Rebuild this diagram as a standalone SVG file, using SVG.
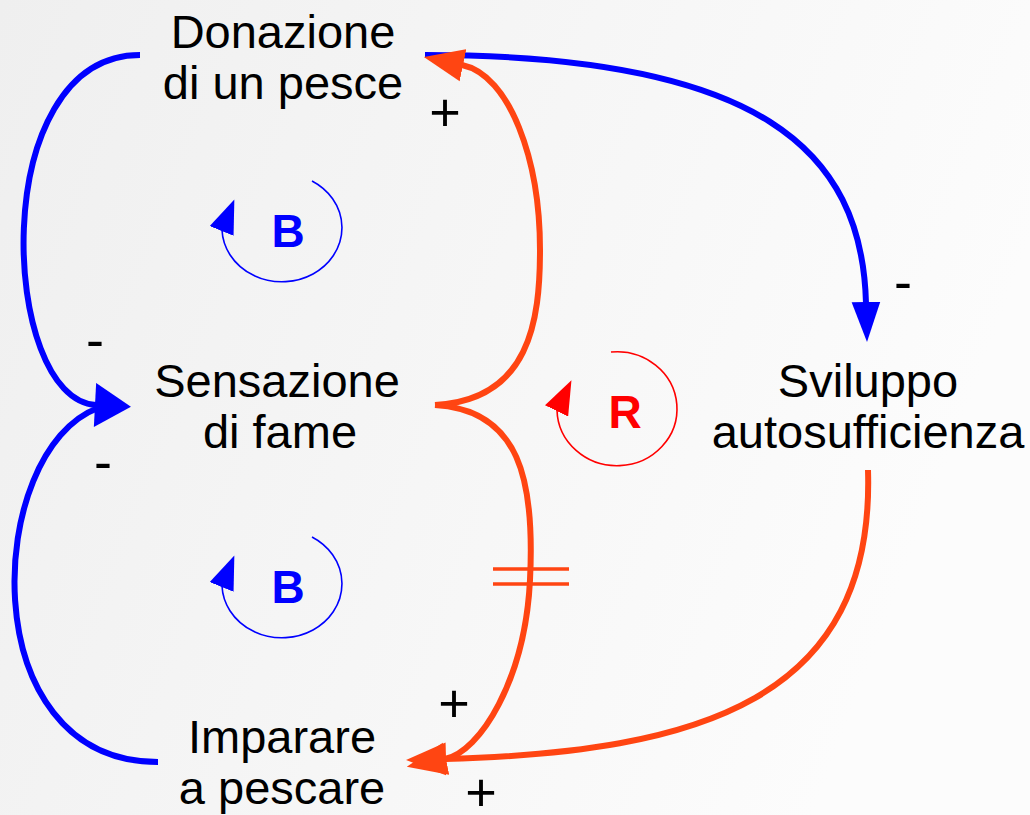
<svg xmlns="http://www.w3.org/2000/svg" width="1030" height="815" viewBox="0 0 1030 815">
<defs>
<linearGradient id="bg" x1="0" y1="0" x2="1" y2="0.3">
<stop offset="0" stop-color="#efefef"/>
<stop offset="1" stop-color="#fcfcfc"/>
</linearGradient>
<marker id="ahBlue" markerUnits="userSpaceOnUse" markerWidth="40" markerHeight="44" viewBox="0 0 36 44" refX="1" refY="22" orient="auto">
<path d="M0,0 L36,22 L0,44 z" fill="#0000ff"/>
</marker>
<marker id="ahBlueS" markerUnits="userSpaceOnUse" markerWidth="40" markerHeight="30" viewBox="0 0 39 28" refX="1" refY="14" orient="auto">
<path d="M0,0 L39,14 L0,28 z" fill="#0000ff"/>
</marker>
<marker id="ahOrange" markerUnits="userSpaceOnUse" markerWidth="40" markerHeight="34" viewBox="0 0 39 32" refX="1" refY="16" orient="auto">
<path d="M0,0 L39,16 L0,32 z" fill="#ff4512"/>
</marker>
<marker id="ahLoopB" markerUnits="userSpaceOnUse" markerWidth="34" markerHeight="26" viewBox="0 0 33 25" refX="1" refY="12.5" orient="-68">
<path d="M0,0 L33,12.5 L0,25 z" fill="#0000ff"/>
</marker>
<marker id="ahLoopR" markerUnits="userSpaceOnUse" markerWidth="34" markerHeight="26" viewBox="0 0 33 25" refX="1" refY="12.5" orient="-64">
<path d="M0,0 L33,12.5 L0,25 z" fill="#ff0000"/>
</marker>
</defs>
<style>
.lbl{font-family:"Liberation Sans",Arial,sans-serif;font-size:47px;fill:#000;text-anchor:middle}
.sign{font-family:"Liberation Sans",Arial,sans-serif;font-size:54px;fill:#000;text-anchor:middle}
.loop{font-family:"Liberation Sans",Arial,sans-serif;font-size:46px;font-weight:bold;text-anchor:middle}
.blue{fill:none;stroke:#0000ff;stroke-width:6}
.orange{fill:none;stroke:#ff4512;stroke-width:6}
.thinB{fill:none;stroke:#0000ff;stroke-width:1.6}
.thinR{fill:none;stroke:#ff0000;stroke-width:1.6}
</style>
<rect width="1030" height="815" fill="url(#bg)"/>

<g id="connectors">
<path class="blue" d="M140,55 C -15,55 0,400 96,405" marker-end="url(#ahBlue)"/>
<path class="blue" d="M158,762 C -30,762 -15,450 98,408"/>
<path class="blue" d="M425,55 C 760,55 862,150 866,303" marker-end="url(#ahBlueS)"/>
<path class="orange" d="M435,405 C 530,400 540,320 540,250 C 540,160 510,75 462,65" marker-end="url(#ahOrange)"/>
<path class="orange" d="M435,405 C 520,410 535,480 530,580 C 525,680 480,752 445,759" marker-end="url(#ahOrange)"/>
<path class="orange" d="M868,470 C 875,700 700,752 445,759" marker-end="url(#ahOrange)"/>
<line x1="493" y1="569" x2="569" y2="569" stroke="#ff4512" stroke-width="3.5"/>
<line x1="493" y1="584" x2="569" y2="584" stroke="#ff4512" stroke-width="3.5"/>
<text class="sign" x="445" y="131">+</text>
<text class="sign" x="903" y="300">-</text>
<text class="sign" x="95" y="358">-</text>
<text class="sign" x="103" y="480">-</text>
<text class="sign" x="454" y="722">+</text>
<text class="sign" x="481" y="811">+</text>
</g>

<g id="loopB1">
<path class="thinB" d="M312,181 A 60 54 0 1 1 222,230" marker-end="url(#ahLoopB)"/>
<text class="loop" x="288" y="247" fill="#0000ff">B</text>
</g>
<g id="loopB2">
<path class="thinB" d="M312,537 A 60 54 0 1 1 222,586" marker-end="url(#ahLoopB)"/>
<text class="loop" x="288" y="603" fill="#0000ff">B</text>
</g>
<g id="loopR">
<path class="thinR" d="M611,352 A 60 57 0 1 1 557,410" marker-end="url(#ahLoopR)"/>
<text class="loop" x="625" y="428" fill="#ff0000">R</text>
</g>

<g id="node-donazione">
<text class="lbl" x="283" y="48">Donazione</text>
<text class="lbl" x="283" y="99">di un pesce</text>
</g>
<g id="node-sensazione">
<text class="lbl" x="277" y="397">Sensazione</text>
<text class="lbl" x="280" y="448">di fame</text>
</g>
<g id="node-sviluppo">
<text class="lbl" x="868" y="397">Sviluppo</text>
<text class="lbl" x="868" y="448">autosufficienza</text>
</g>
<g id="node-imparare">
<text class="lbl" x="282" y="753">Imparare</text>
<text class="lbl" x="282" y="804">a pescare</text>
</g>
</svg>
